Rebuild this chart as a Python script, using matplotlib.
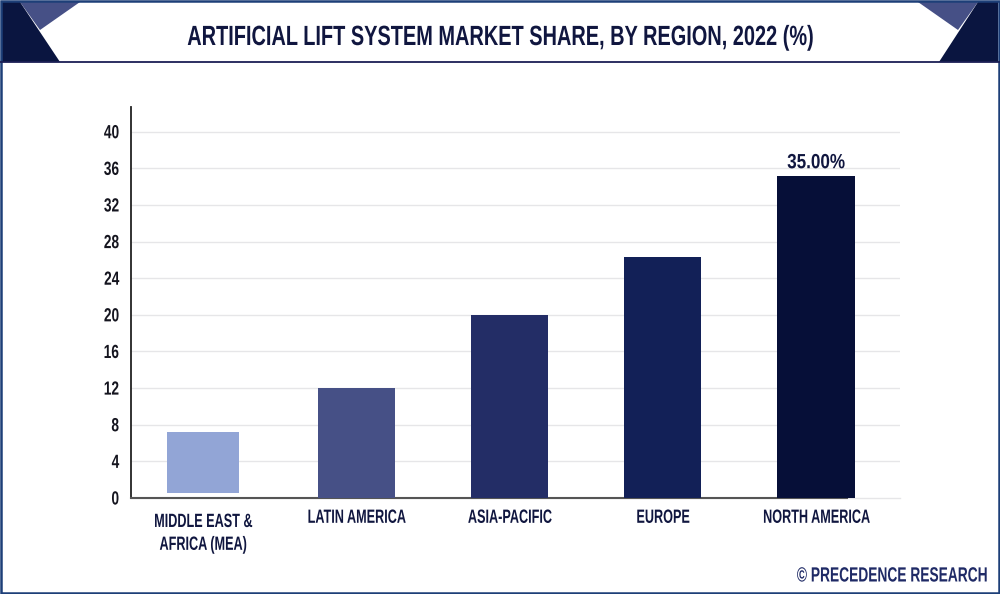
"""Artificial lift market share by region, bar chart with the banner header."""
import matplotlib
matplotlib.use("Agg")
import matplotlib.pyplot as plt
from matplotlib.patches import Polygon, Rectangle
from matplotlib.patheffects import AbstractPathEffect
from matplotlib.transforms import Affine2D

regions = ["MIDDLE EAST &\nAFRICA (MEA)", "LATIN AMERICA", "ASIA-PACIFIC", "EUROPE", "NORTH AMERICA"]
tops = [7.2, 12.0, 20.0, 26.3, 35.2]
bottoms = [0.6, 0, 0, 0, 0]
bar_colors = ["#92a5d6", "#465086", "#232d66", "#122057", "#060f38"]
y_ticks = [0, 4, 8, 12, 16, 20, 24, 28, 32, 36, 40]
title = "ARTIFICIAL LIFT SYSTEM MARKET SHARE, BY REGION, 2022 (%)"
value_label = "35.00%"
credit = "© PRECEDENCE RESEARCH"

W, H = 1000, 594
plt.rcParams["font.family"] = ["Liberation Sans", "DejaVu Sans"]
NAVY = "#10163f"


class Squeeze(AbstractPathEffect):
    """Narrow a text line horizontally, no condensed font is installed here."""

    def __init__(self, sx, anchor="center"):
        super().__init__()
        self.sx = sx
        self.anchor = anchor

    def draw_path(self, renderer, gc, tpath, affine, rgbFace=None):
        ext = tpath.get_extents()
        x0 = ext.x1 if self.anchor == "right" else (ext.x0 + ext.x1) / 2
        squeeze = Affine2D().translate(-x0, 0).scale(self.sx, 1).translate(x0, 0)
        renderer.draw_path(gc, tpath, squeeze + affine, rgbFace)


fig = plt.figure(figsize=(W / 100, H / 100), dpi=100, facecolor="white")

# banner and frame, drawn in pixel coordinates on a full-figure axes
bg = fig.add_axes([0, 0, 1, 1], zorder=0)
bg.set_xlim(0, W)
bg.set_ylim(H, 0)
bg.axis("off")
bg.add_patch(Polygon([(20, 2), (80, 2), (40, 30)], color="#465086", lw=0))
bg.add_patch(Polygon([(2, 2), (20, 2), (60, 62), (2, 62)], color="#0a1540", lw=0))
bg.add_patch(Polygon([(918, 2), (978, 2), (958, 30)], color="#465086", lw=0))
bg.add_patch(Polygon([(978, 2), (998, 2), (998, 62), (939, 62)], color="#0a1540", lw=0))
bg.plot([0, W], [61.5, 61.5], color="#1b1f55", lw=1.3)
bg.add_patch(Rectangle((0.8, 0.8), W - 1.6, H - 1.6, fill=False, ec="#1d3f78", lw=1.8))
bg.text(500.5, 38, title, ha="center", va="center", fontsize=20, fontweight="bold", color=NAVY,
        path_effects=[Squeeze(0.718)])
bg.text(987, 576, credit, ha="right", va="center", fontsize=14.8, fontweight="bold", color="#1f2a66",
        path_effects=[Squeeze(0.67, anchor="right")])

# plot area: left 131, right 900, top 107, zero line 498
ax = fig.add_axes([131 / W, 1 - 498 / H, 769 / W, 391 / H], zorder=1)
ax.patch.set_alpha(0)
positions = list(range(len(regions)))
heights = [t - b for t, b in zip(tops, bottoms)]
ax.bar(positions, heights, bottom=bottoms, width=[0.47, 0.5, 0.505, 0.505, 0.51],
       color=bar_colors, zorder=3)
ax.set_xlim(-0.47, 4.548)
ax.set_ylim(0, 42.7)
ax.set_yticks(y_ticks)
ax.set_xticks(positions, regions)
ax.grid(axis="y", color="#e6e6e8", lw=1, zorder=0)
ax.set_axisbelow(True)
ax.yaxis.get_gridlines()[0].set_clip_on(False)
for side in ("top", "right"):
    ax.spines[side].set_visible(False)
ax.spines["left"].set_color("#222222")
ax.spines["left"].set_linewidth(1.3)
# the dark base stops under the last bar, only the pale gridline runs on
ax.spines["bottom"].set_color("#555555")
ax.spines["bottom"].set_linewidth(1.5)
ax.spines["bottom"].set_bounds(-0.47, 4.2)
ax.tick_params(axis="y", length=0, pad=8.5, labelsize=13.7, labelcolor="#15151f")
ax.tick_params(axis="x", length=0, pad=8.5, labelsize=13.8, labelcolor=NAVY)
ax.xaxis.get_major_ticks()[0].set_pad(11.5)
for lab in ax.get_xticklabels():
    lab.set_fontweight("bold")
    lab.set_linespacing(1.45)
    lab.set_path_effects([Squeeze(0.66)])
for lab in ax.get_yticklabels():
    lab.set_fontweight("bold")
    lab.set_path_effects([Squeeze(0.72, anchor="right")])
ax.annotate(value_label, (positions[-1], tops[-1]), xytext=(0, 2.5), textcoords="offset points",
            ha="center", va="bottom", fontsize=14.8, fontweight="bold", color=NAVY,
            path_effects=[Squeeze(0.83)])

fig.savefig("out.png", dpi=100)
plt.close(fig)
